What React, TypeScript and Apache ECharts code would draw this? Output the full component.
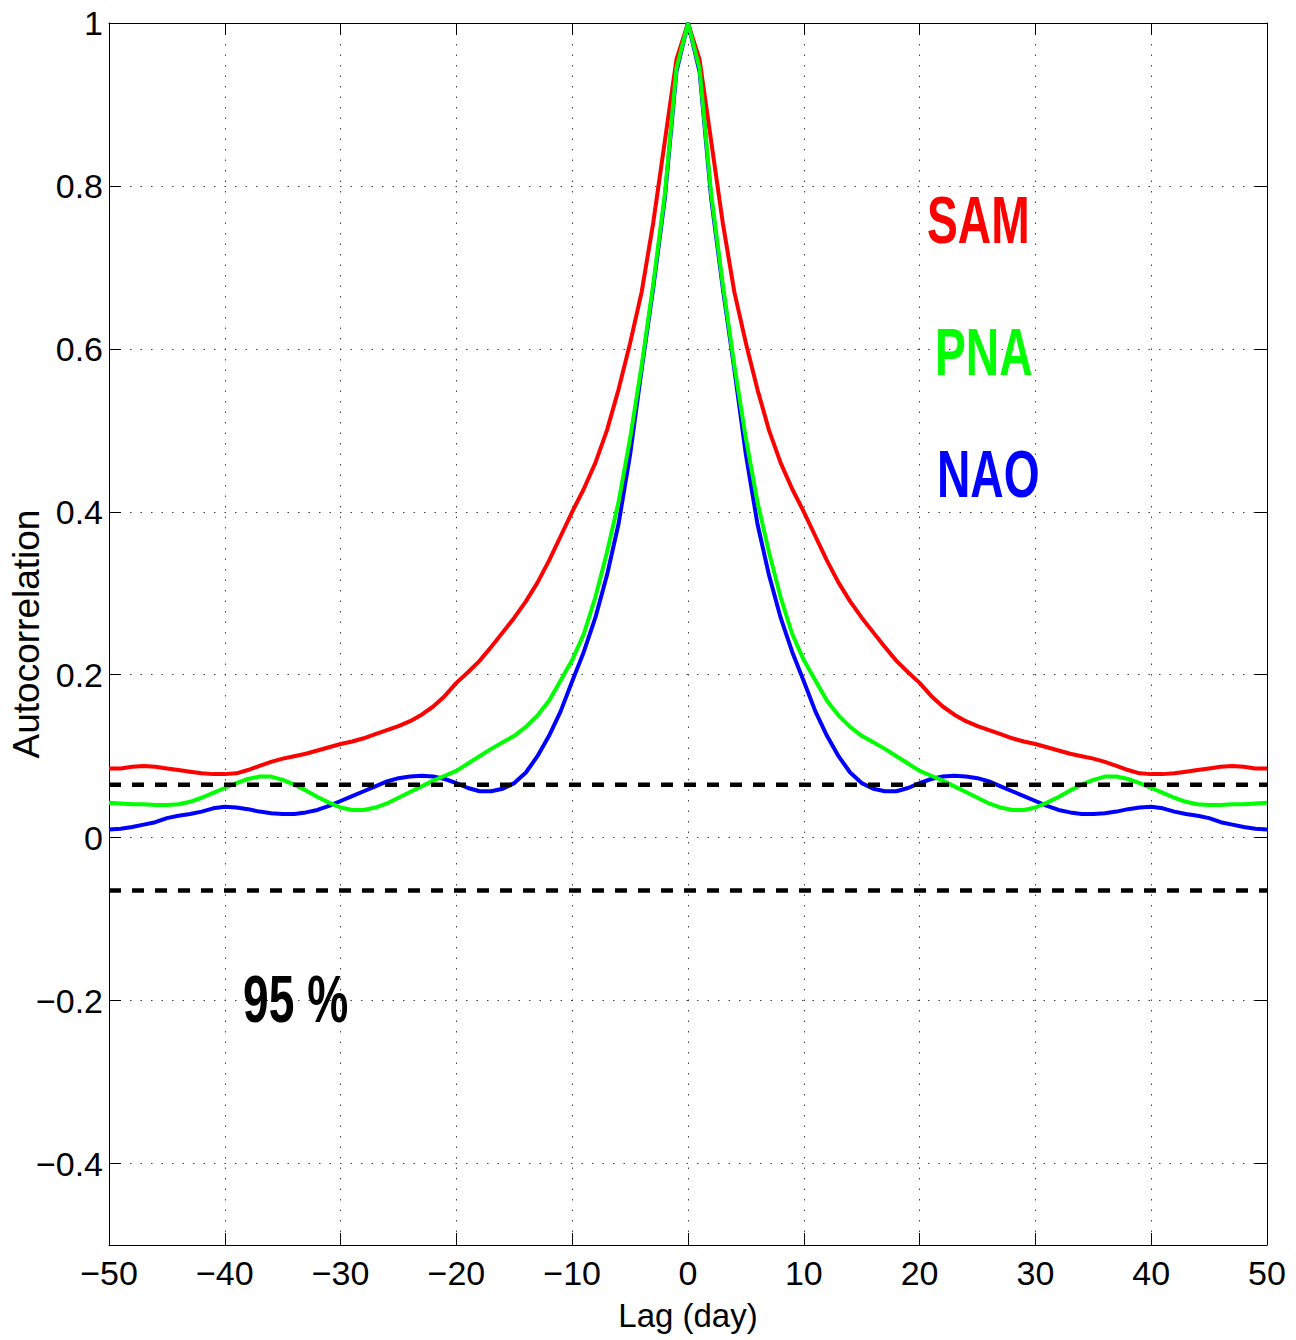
import React, { useEffect, useRef } from "react";
import * as echarts from "echarts";

// Lag range (days) and tick values
const lagMin = -50;
const lagMax = 50;
const lagInterval = 10;
const yMin = -0.5;
const yMax = 1;
const yTickValues = [-0.4, -0.2, 0, 0.2, 0.4, 0.6, 0.8, 1];

// Autocorrelation at lags 0..50 (symmetric in lag)
const samHalf = [
  1.0, 0.955, 0.855, 0.755, 0.67, 0.607, 0.55, 0.5, 0.46, 0.428, 0.4, 0.37, 0.34, 0.313, 0.29, 0.27,
  0.252, 0.234, 0.217, 0.203, 0.19, 0.174, 0.161, 0.151, 0.143, 0.137, 0.132, 0.127, 0.122, 0.118,
  0.115, 0.111, 0.107, 0.103, 0.1, 0.097, 0.093, 0.088, 0.083, 0.079, 0.078, 0.078, 0.079, 0.081,
  0.083, 0.085, 0.087, 0.088, 0.087, 0.085, 0.085,
];
const pnaHalf = [
  1.0, 0.944, 0.79, 0.68, 0.58, 0.49, 0.412, 0.35, 0.295, 0.25, 0.218, 0.193, 0.168, 0.15, 0.136,
  0.125, 0.117, 0.109, 0.1, 0.091, 0.082, 0.076, 0.07, 0.063, 0.056, 0.049, 0.042, 0.037, 0.034,
  0.034, 0.037, 0.043, 0.05, 0.058, 0.065, 0.071, 0.075, 0.075, 0.072, 0.067, 0.061, 0.055, 0.049,
  0.044, 0.041, 0.04, 0.04, 0.041, 0.041, 0.042, 0.043,
];
const naoHalf = [
  1.0, 0.94, 0.785, 0.675, 0.575, 0.47, 0.385, 0.322, 0.27, 0.228, 0.192, 0.155, 0.125, 0.1, 0.08,
  0.067, 0.06, 0.057, 0.057, 0.061, 0.067, 0.072, 0.075, 0.076, 0.075, 0.073, 0.069, 0.063, 0.057,
  0.051, 0.045, 0.039, 0.034, 0.031, 0.029, 0.029, 0.03, 0.032, 0.035, 0.037, 0.038, 0.036, 0.032,
  0.029, 0.027, 0.024, 0.019, 0.016, 0.013, 0.011, 0.01,
];

// 95% significance bound
const bound95 = 0.065;

const seriesNames = ["SAM", "PNA", "NAO"];
const seriesColors = ["#ff0000", "#00ff00", "#0000ff"];

function mirror(half: number[]): [number, number][] {
  const out: [number, number][] = [];
  for (let i = half.length - 1; i >= 1; i--) out.push([-i, half[i]]);
  for (let i = 0; i < half.length; i++) out.push([i, half[i]]);
  return out;
}

const fmt = (v: number) => {
  const r = Math.round(v * 1000) / 1000;
  if (r === 0) return "0";
  return (r < 0 ? "\u2212" : "") + String(Math.abs(r));
};

const FONT = '"Liberation Sans", Arial, sans-serif';

export default function App() {
  const ref = useRef<HTMLDivElement>(null);

  useEffect(() => {
    if (!ref.current) return;
    const chart = echarts.init(ref.current, undefined, { renderer: "svg" });

    const axisLine = { show: true, onZero: false, lineStyle: { color: "#000", width: 1 } };
    const tick = { show: true, inside: true, length: 12, lineStyle: { color: "#000", width: 1 } };
    const grid = { show: true, lineStyle: { color: "#444", width: 1, type: [1.5, 9] } };

    const curves = [samHalf, naoHalf, pnaHalf];
    const curveNames = [seriesNames[0], seriesNames[2], seriesNames[1]];
    const curveColors = [seriesColors[0], seriesColors[2], seriesColors[1]];

    const option: any = {
      animation: false,
      backgroundColor: "#fff",
      grid: {
        left: 109,
        right: 29,
        top: 23,
        bottom: 95,
        containLabel: false,
        outerBoundsMode: "none",
      },
      xAxis: [
        {
          type: "value",
          min: lagMin,
          max: lagMax,
          interval: lagInterval,
          position: "bottom",
          axisLine,
          axisTick: tick,
          axisLabel: { formatter: fmt, fontFamily: FONT, fontSize: 34, color: "#000", margin: 11 },
          splitLine: grid,
          name: "Lag (day)",
          nameLocation: "middle",
          nameGap: 54,
          nameMoveOverlap: false,
          nameTextStyle: { fontFamily: FONT, fontSize: 33, color: "#000" },
        },
        {
          type: "value",
          min: lagMin,
          max: lagMax,
          interval: lagInterval,
          position: "top",
          axisLine,
          axisTick: tick,
          axisLabel: { show: false },
          splitLine: { show: false },
        },
      ],
      yAxis: [
        {
          type: "value",
          min: yMin,
          max: yMax,
          position: "left",
          axisLine,
          axisTick: { ...tick, customValues: yTickValues },
          axisLabel: {
            customValues: yTickValues,
            formatter: fmt,
            fontFamily: FONT,
            fontSize: 34,
            color: "#000",
            margin: 6,
          },
          splitLine: grid,
          name: "Autocorrelation",
          nameLocation: "middle",
          nameGap: 64,
          nameMoveOverlap: false,
          nameTextStyle: { fontFamily: FONT, fontSize: 37, color: "#000" },
        },
        {
          type: "value",
          min: yMin,
          max: yMax,
          position: "right",
          axisLine,
          axisTick: { ...tick, customValues: yTickValues },
          axisLabel: { show: false },
          splitLine: { show: false },
        },
      ],
      series: [
        ...curves.map((half, i) => ({
          name: curveNames[i],
          type: "line",
          data: mirror(half),
          showSymbol: false,
          symbol: "none",
          smooth: false,
          lineStyle: { color: curveColors[i], width: 4 },
          itemStyle: { color: curveColors[i] },
          z: 3 + i,
        })),
        ...[bound95, -bound95].map((b, i) => ({
          name: i === 0 ? "95% upper" : "95% lower",
          type: "line",
          data: [
            [lagMin, b],
            [lagMax, b],
          ],
          showSymbol: false,
          symbol: "none",
          lineStyle: { color: "#000", width: 4.5, type: [12, 11] },
          z: 10,
        })),
      ],
      graphic: [
        { text: "SAM", color: seriesColors[0], x: 927, y: 220 },
        { text: "PNA", color: seriesColors[1], x: 935, y: 352 },
        { text: "NAO", color: seriesColors[2], x: 937, y: 474 },
        { text: "95 %", color: "#000", x: 243, y: 999 },
      ].map((t) => ({
        type: "text",
        x: t.x,
        y: t.y,
        scaleX: 0.7,
        z: 20,
        style: {
          text: t.text,
          fill: t.color,
          fontFamily: FONT,
          fontWeight: "bold",
          fontSize: 66,
          align: "left",
          verticalAlign: "middle",
        },
      })),
    };

    chart.setOption(option);
    return () => chart.dispose();
  }, []);

  return (
    <div
      ref={ref}
      style={{ position: "absolute", left: 0, top: 0, width: 1296, height: 1340, background: "#fff" }}
    />
  );
}
